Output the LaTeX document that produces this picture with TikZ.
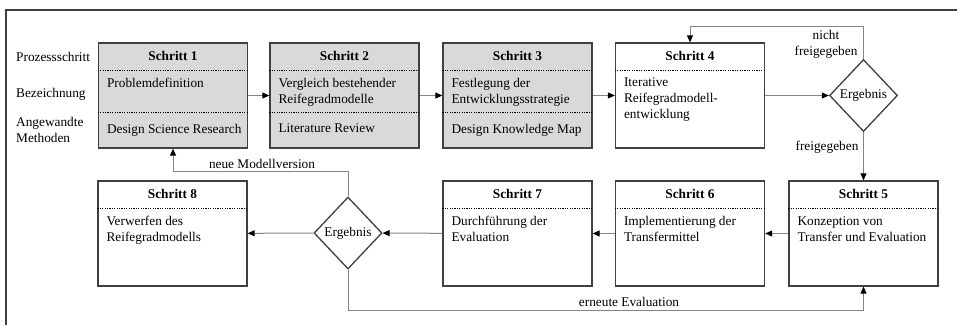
\documentclass[tikz,border=0pt]{standalone}
\usepackage{fontspec}
\setmainfont{Liberation Serif}
\usetikzlibrary{shapes.geometric,arrows.meta}
\definecolor{boxgray}{HTML}{D9D9D9}
\definecolor{edgegray}{HTML}{404040}
\definecolor{linegray}{HTML}{858585}
\begin{document}
\begin{tikzpicture}[x=1pt,y=-1pt,
  every node/.style={font=\fontsize{13.3}{16}\selectfont, inner sep=0pt},
  stepbox/.style={draw=edgegray, line width=1.3pt, minimum width=149pt, minimum height=105pt},
  done/.style={stepbox, fill=boxgray},
  decision/.style={diamond, draw=edgegray, line width=1.3pt, minimum width=68pt, minimum height=72pt},
  conn/.style={draw=linegray, line width=1pt, -{Triangle[length=7pt,width=6pt,color=black]}},
  sep/.style={black, line width=1.2pt, dash pattern=on 1.2pt off 1.2pt},
  head/.style={font=\fontsize{13.3}{16}\selectfont\bfseries},
  body/.style={anchor=north west, align=left},
  side/.style={anchor=base west}
]
\useasboundingbox (0,0) rectangle (957,325);
\fill[white] (0,0) rectangle (957,325);
% outer frame
\draw[edgegray, line width=1.2pt] (6,325) -- (6,10) -- (957,10);

% process steps
\node[done] (s1) at (173,95.5) {};
\node[done] (s2) at (344.5,95.5) {};
\node[done] (s3) at (517.5,95.5) {};
\node[stepbox] (s4) at (690,95.5) {};
\node[decision] (d1) at (863.5,95.5) {Ergebnis};
\node[stepbox] (s5) at (863.5,233.5) {};
\node[stepbox] (s6) at (690,233.5) {};
\node[stepbox] (s7) at (517.5,233.5) {};
\node[decision] (d2) at (348,233) {Ergebnis};
\node[stepbox] (s8) at (172.5,233.5) {};

% header separators
\foreach \b in {s1,s2,s3,s4,s5,s6,s7,s8}
  \draw[sep] ([yshift=-28pt]\b.north west) -- ([yshift=-28pt]\b.north east);
\foreach \b in {s1,s2,s3}
  \draw[sep] ([yshift=-70pt]\b.north west) -- ([yshift=-70pt]\b.north east);

% titles
\foreach \b/\n in {s1/1,s2/2,s3/3,s4/4,s5/5,s6/6,s7/7,s8/8}
  \node[head] (t\n) at ([yshift=-14pt]\b.north) {Schritt \n};

% descriptions
\node[body] (b1) at ([xshift=9pt,yshift=-35.5pt]s1.north west) {Problemdefinition};
\node[body] (b2) at ([xshift=9pt,yshift=-35.5pt]s2.north west) {Vergleich bestehender\\Reifegradmodelle};
\node[body] (b3) at ([xshift=9pt,yshift=-35.5pt]s3.north west) {Festlegung der\\Entwicklungsstrategie};
\node[body] (b4) at ([xshift=9pt,yshift=-35.5pt]s4.north west) {Iterative\\Reifegradmodell-\\entwicklung};
\node[body] (b5) at ([xshift=9pt,yshift=-36pt]s5.north west) {Konzeption von\\Transfer und Evaluation};
\node[body] (b6) at ([xshift=9pt,yshift=-36pt]s6.north west) {Implementierung der\\Transfermittel};
\node[body] (b7) at ([xshift=9pt,yshift=-36pt]s7.north west) {Durchführung der\\Evaluation};
\node[body] (b8) at ([xshift=9pt,yshift=-36pt]s8.north west) {Verwerfen des\\Reifegradmodells};

% methods
\node[body] (m1) at ([xshift=9pt,yshift=-81.5pt]s1.north west) {Design Science Research};
\node[body] (m2) at ([xshift=9pt,yshift=-81.5pt]s2.north west) {Literature Review};
\node[body] (m3) at ([xshift=9pt,yshift=-81.5pt]s3.north west) {Design Knowledge Map};

% row legend
\node[side] (lp) at (16,61.5) {Prozessschritt};
\node[side] (lb) at (16,97.5) {Bezeichnung};
\node[body] (lm) at (16,117) {Angewandte\\Methoden};

% flow
\draw[conn] (s1) -- (s2);
\draw[conn] (s2) -- (s3);
\draw[conn] (s3) -- (s4);
\draw[conn] (s4) -- (d1);
\draw[conn] (d1) -- (s5);
\draw[conn] (d1.north) -- ++(0,-32) -| (s4.north);
\draw[conn] (s5) -- (s6);
\draw[conn] (s6) -- (s7);
\draw[conn] (s7) -- (d2);
\draw[conn] (d2) -- (s8);
\draw[conn] (d2.north) -- ++(0,-25) -| (s1.south);
\draw[conn] (d2.south) -- ++(0,41) -| (s5.south);

% connector labels
\node[anchor=north, align=center] (lnf) at (826,30) {nicht\\freigegeben};
\node[anchor=base] (lf) at (827,150.5) {freigegeben};
\node[anchor=base] (lnm) at (262,168) {neue Modellversion};
\node[anchor=base] (lee) at (629,306) {erneute Evaluation};
\end{tikzpicture}
\end{document}
